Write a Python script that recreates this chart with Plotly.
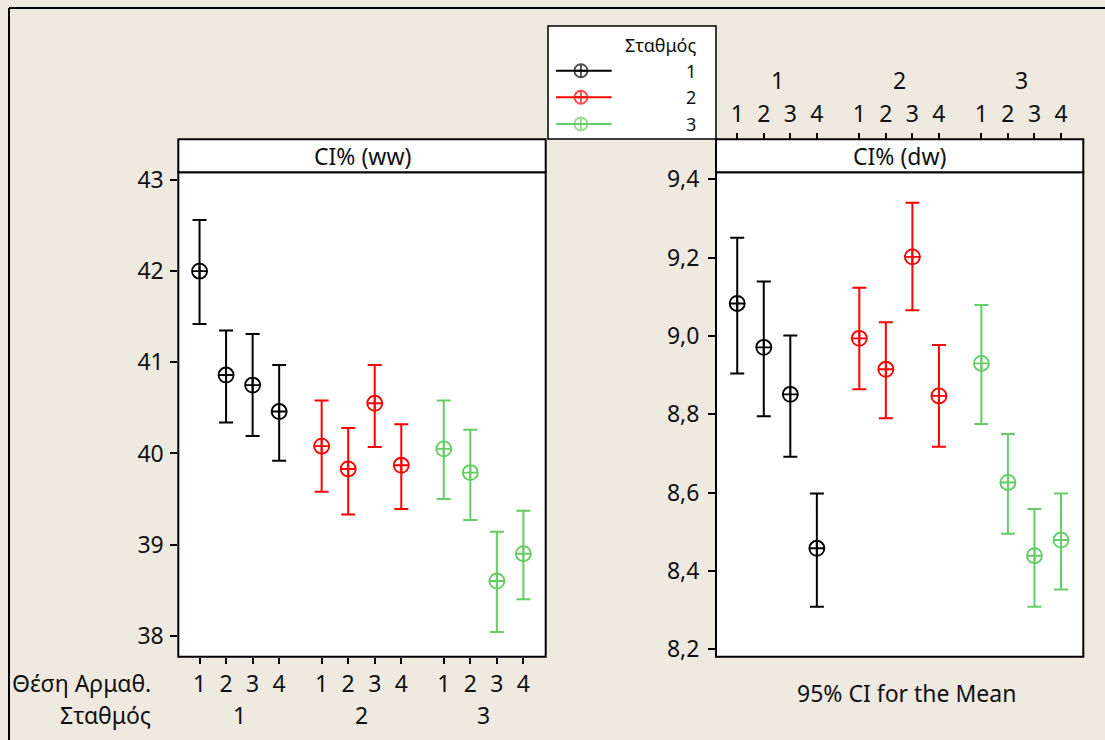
import plotly.graph_objects as go

# ---------------- data ----------------
stations = [1, 2, 3]
positions = [1, 2, 3, 4]
station_colors = ["#000000", "#FF0000", "#66CC66"]

ww_mean = [42.00, 40.86, 40.75, 40.46, 40.08, 39.83, 40.55, 39.87, 40.05, 39.79, 38.60, 38.90]
ww_upper = [42.56, 41.35, 41.31, 40.97, 40.58, 40.28, 40.97, 40.32, 40.58, 40.26, 39.14, 39.37]
ww_lower = [41.42, 40.34, 40.19, 39.92, 39.58, 39.33, 40.07, 39.39, 39.50, 39.27, 38.04, 38.40]

dw_mean = [9.083, 8.971, 8.851, 8.458, 8.994, 8.915, 9.202, 8.847, 8.930, 8.626, 8.439, 8.479]
dw_upper = [9.251, 9.139, 9.001, 8.598, 9.123, 9.035, 9.340, 8.977, 9.079, 8.750, 8.558, 8.598]
dw_lower = [8.904, 8.795, 8.692, 8.309, 8.864, 8.790, 9.066, 8.717, 8.775, 8.495, 8.309, 8.353]

ww_ticks = [38, 39, 40, 41, 42, 43]
dw_ticks = [8.2, 8.4, 8.6, 8.8, 9.0, 9.2, 9.4]

# ---------------- layout helpers ----------------
W, H = 1105, 740
GROUP = 4.6
FONT = "Noto Sans"
FS = 23
BG = "#EEEAE0"

def px(x):
    return x / W

def py(y):
    return 1 - y / H

xpos = [(s - 1) * GROUP + (p - 1) for s in stations for p in positions]
xlabels = [str(p) for s in stations for p in positions]
group_mid = [(s - 1) * GROUP + 1.5 for s in stations]
xrange_ = [-0.80, 13.04]

plot_top, plot_bot = 172.3, 656.7
strip_top = 139.3
L_dom = [px(178.3), px(545.7)]
R_dom = [px(716.0), px(1083.3)]
Y_dom = [py(plot_bot), py(plot_top)]

fig = go.Figure()

n = len(positions)
for i, s in enumerate(stations):
    sl = slice(i * n, (i + 1) * n)
    c = station_colors[i]
    for (mean, up, lo, xa, ya) in [(ww_mean, ww_upper, ww_lower, "x", "y"),
                                   (dw_mean, dw_upper, dw_lower, "x2", "y2")]:
        m = mean[sl]
        fig.add_trace(go.Scatter(
            x=xpos[sl], y=m, mode="markers", xaxis=xa, yaxis=ya,
            marker=dict(symbol="circle-cross-open", size=15, color=c,
                        line=dict(width=1.9, color=c)),
            error_y=dict(type="data", symmetric=False,
                         array=[u - v for u, v in zip(up[sl], m)],
                         arrayminus=[v - l for l, v in zip(lo[sl], m)],
                         color=c, thickness=2, width=7),
            showlegend=False, hoverinfo="skip"))

# legend (manual) on its own hidden axis
leg_y = [0.604, 0.369, 0.133]
for i, s in enumerate(stations):
    c = station_colors[i]
    fig.add_trace(go.Scatter(
        x=[0.048, 0.196, 0.379], y=[leg_y[i]] * 3, mode="lines+markers",
        xaxis="x3", yaxis="y3",
        line=dict(color=c, width=2),
        marker=dict(symbol="circle-cross-open", size=[0, 13, 0], color=c,
                    line=dict(width=1.9, color=c)),
        showlegend=False, hoverinfo="skip"))

axis_common = dict(showgrid=False, zeroline=False, showline=False, automargin=False,
                   ticks="outside", tickcolor="black", tickwidth=1.5,
                   tickfont=dict(family=FONT, size=FS, color="#111111"))

fig.update_layout(
    width=W, height=H, autosize=False,
    margin=dict(l=0, r=0, t=0, b=0, pad=0, autoexpand=False),
    paper_bgcolor=BG, plot_bgcolor="white",
    showlegend=False,
    separators=",.",
    font=dict(family=FONT, size=FS, color="#111111"),
    xaxis=dict(domain=L_dom, range=xrange_, anchor="y", tickvals=xpos,
               ticktext=xlabels, ticklen=6, ticklabelstandoff=1, **axis_common),
    yaxis=dict(domain=Y_dom, range=[37.770, 43.0845], anchor="x", tickvals=ww_ticks,
               ticklen=7, ticklabelstandoff=2, **axis_common),
    xaxis2=dict(domain=R_dom, range=xrange_, anchor="free", position=py(strip_top),
                side="top", tickvals=xpos, ticktext=xlabels, ticklen=6,
                ticklabelstandoff=2, **axis_common),
    yaxis2=dict(domain=Y_dom, range=[8.1812, 9.4179], anchor="x2", tickvals=dw_ticks,
                tickformat=".1f", ticklen=7, ticklabelstandoff=4, **axis_common),
    xaxis3=dict(domain=[px(548), px(716)], range=[0, 1], visible=False, anchor="y3",
                automargin=False),
    yaxis3=dict(domain=[py(139), py(26)], range=[0, 1], visible=False, anchor="x3",
                automargin=False),
)

shapes = []
# outer frame (left and top lines)
shapes.append(dict(type="line", xref="paper", yref="paper", x0=px(9), x1=1.0,
                   y0=py(8), y1=py(8), line=dict(color="black", width=2)))
shapes.append(dict(type="line", xref="paper", yref="paper", x0=px(9), x1=px(9),
                   y0=py(8), y1=0.0, line=dict(color="black", width=2)))
# legend box
shapes.append(dict(type="rect", xref="paper", yref="paper", x0=px(548), x1=px(716),
                   y0=py(139), y1=py(26), fillcolor="white", layer="below",
                   line=dict(color="black", width=1.5)))
# plot frames and strips
for xd in ["x domain", "x2 domain"]:
    yd = "y domain" if xd == "x domain" else "y2 domain"
    shapes.append(dict(type="rect", xref=xd, yref=yd, x0=0, x1=1, y0=0, y1=1,
                       line=dict(color="black", width=2)))
    shapes.append(dict(type="rect", xref=xd, yref="paper", x0=0, x1=1,
                       y0=py(plot_top), y1=py(strip_top), fillcolor="white",
                       line=dict(color="black", width=2)))
fig.update_layout(shapes=shapes)

ann = []
# strip titles
ann.append(dict(text="CI% (ww)", xref="x domain", yref="paper", x=0.5,
                y=py((plot_top + strip_top) / 2), showarrow=False,
                xanchor="center", yanchor="middle"))
ann.append(dict(text="CI% (dw)", xref="x2 domain", yref="paper", x=0.5,
                y=py((plot_top + strip_top) / 2), showarrow=False,
                xanchor="center", yanchor="middle"))
# group labels
for i, s in enumerate(stations):
    ann.append(dict(text=str(s), xref="x", yref="paper", x=group_mid[i], y=py(715),
                    showarrow=False, xanchor="center", yanchor="middle"))
    ann.append(dict(text=str(s), xref="x2", yref="paper", x=group_mid[i], y=py(80),
                    showarrow=False, xanchor="center", yanchor="middle"))
# row labels
ann.append(dict(text="Θέση Αρμαθ.", xref="paper", yref="paper", x=px(153), y=py(683),
                showarrow=False, xanchor="right", yanchor="middle"))
ann.append(dict(text="Σταθμός", xref="paper", yref="paper", x=px(153), y=py(715),
                showarrow=False, xanchor="right", yanchor="middle"))
ann.append(dict(text="95% CI for the Mean", xref="x2 domain", yref="paper", x=0.52,
                y=py(693), showarrow=False, xanchor="center", yanchor="middle"))
# legend texts
ann.append(dict(text="Σταθμός", xref="x3", yref="y3", x=0.89, y=0.832,
                showarrow=False, xanchor="right", yanchor="middle",
                font=dict(size=18)))
for i, s in enumerate(stations):
    ann.append(dict(text=str(s), xref="x3", yref="y3", x=0.89, y=leg_y[i],
                    showarrow=False, xanchor="right", yanchor="middle",
                    font=dict(size=18)))
fig.update_layout(annotations=ann)

fig.write_html("out.html")
